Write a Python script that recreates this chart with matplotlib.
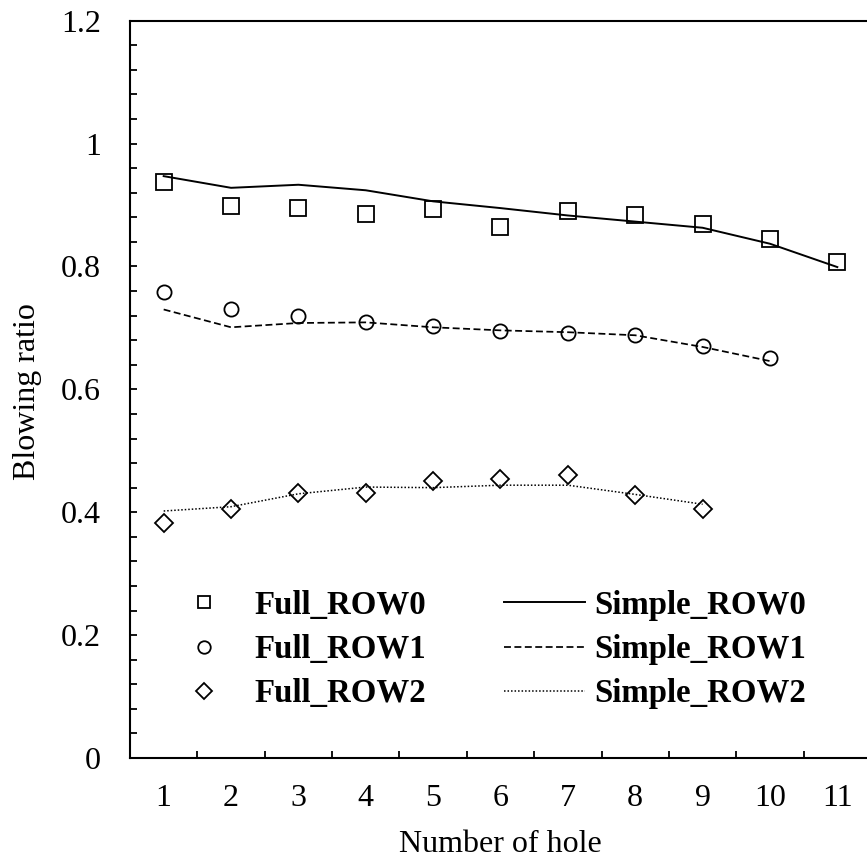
import matplotlib
matplotlib.use('Agg')
import matplotlib.pyplot as plt
from matplotlib.lines import Line2D
from matplotlib.ticker import FixedLocator, MultipleLocator, NullFormatter

# ---------------- data ----------------
holes = list(range(1, 12))
x_tick_labels = [str(h) for h in holes]
y_ticks = [0, 0.2, 0.4, 0.6, 0.8, 1.0, 1.2]
y_tick_labels = ["0", "0.2", "0.4", "0.6", "0.8", "1", "1.2"]

full_row0 = [0.937, 0.899, 0.895, 0.886, 0.894, 0.865, 0.890, 0.884, 0.869, 0.844, 0.808]
simple_row0 = [0.947, 0.928, 0.933, 0.924, 0.906, 0.895, 0.883, 0.873, 0.863, 0.837, 0.799]
full_row1 = [0.759, 0.731, 0.720, 0.709, 0.703, 0.695, 0.692, 0.688, 0.670, 0.651]
simple_row1 = [0.730, 0.701, 0.708, 0.709, 0.701, 0.696, 0.693, 0.688, 0.669, 0.646]
full_row2 = [0.382, 0.406, 0.432, 0.432, 0.451, 0.454, 0.461, 0.428, 0.406]
simple_row2 = [0.402, 0.409, 0.430, 0.441, 0.440, 0.444, 0.444, 0.429, 0.413]

legend_labels = ['Full_ROW0', 'Full_ROW1', 'Full_ROW2', 'Simple_ROW0', 'Simple_ROW1', 'Simple_ROW2']

# ---------------- style ----------------
plt.rcParams['font.family'] = ['Liberation Serif', 'DejaVu Serif']
FS = 23
LFS = 23.7

W, H = 867, 860
fig = plt.figure(figsize=(W / 100, H / 100), dpi=100)
ax_left, ax_right, ax_top, ax_bottom = 130, 871, 20.7, 758
ax = fig.add_axes([ax_left / W, 1 - ax_bottom / H, (ax_right - ax_left) / W, (ax_bottom - ax_top) / H])

mk = dict(color='none', markerfacecolor='none', markeredgecolor='black', markeredgewidth=1.3)
ax.plot(holes[:len(full_row0)], full_row0, marker='s', markersize=11, linestyle='none', **mk)
ax.plot(holes[:len(full_row1)], full_row1, marker='o', markersize=10.2, linestyle='none', **mk)
ax.plot(holes[:len(full_row2)], full_row2, marker='D', markersize=8.8, linestyle='none', **mk)
dash_style = (0, (4, 2))
dot_style = (0, (1, 1.3))
ax.plot(holes[:len(simple_row0)], simple_row0, color='black', linewidth=1.4, linestyle='-')
ax.plot(holes[:len(simple_row1)], simple_row1, color='black', linewidth=1.25, linestyle=dash_style)
ax.plot(holes[:len(simple_row2)], simple_row2, color='black', linewidth=1.1, linestyle=dot_style)

ax.set_xlim(0.5, 11.5)
ax.set_ylim(0, 1.2)

# spines
for s in ['left', 'bottom', 'top']:
    ax.spines[s].set_linewidth(1.5)
ax.spines['right'].set_visible(False)

# y ticks
ax.yaxis.set_major_locator(FixedLocator(y_ticks))
ax.set_yticklabels(y_tick_labels)
ax.yaxis.set_minor_locator(MultipleLocator(0.04))
ax.tick_params(axis='y', which='both', direction='in', length=5, width=1.3, left=True, right=False)
ax.tick_params(axis='y', which='major', labelsize=FS, pad=21)

# x ticks: labels at categories, tick marks between categories
ax.xaxis.set_major_locator(FixedLocator(holes))
ax.set_xticklabels(x_tick_labels)
ax.xaxis.set_minor_locator(FixedLocator([h + 0.5 for h in holes]))
ax.xaxis.set_minor_formatter(NullFormatter())
ax.tick_params(axis='x', which='major', length=0, labelsize=FS, pad=18.5, top=False)
ax.tick_params(axis='x', which='minor', direction='in', length=5, width=1.3, top=False, bottom=True)

# axis titles
fig.text(28 / W, 1 - 392 / H, 'Blowing ratio', rotation=90, ha='center', va='center', fontsize=FS)
fig.text(500 / W, 1 - 844 / H, 'Number of hole', ha='center', va='center', fontsize=FS)

# legend
handles = [
    Line2D([], [], marker='s', markersize=9, linestyle='none', **mk),
    Line2D([], [], marker='o', markersize=9, linestyle='none', **mk),
    Line2D([], [], marker='D', markersize=8, linestyle='none', **mk),
    Line2D([], [], color='black', linewidth=1.4, linestyle='-'),
    Line2D([], [], color='black', linewidth=1.25, linestyle=dash_style),
    Line2D([], [], color='black', linewidth=1.1, linestyle=dot_style),
]
fig.legend(handles, legend_labels,
           ncol=2, loc='upper left', bbox_to_anchor=(164 / W, 1 - 590 / H),
           frameon=False, borderpad=0, borderaxespad=0,
           handlelength=2.46, handletextpad=0.30, columnspacing=2.34, labelspacing=0.40,
           prop={'family': 'Liberation Serif', 'weight': 'bold', 'size': LFS})

fig.savefig('out.png', dpi=100)
